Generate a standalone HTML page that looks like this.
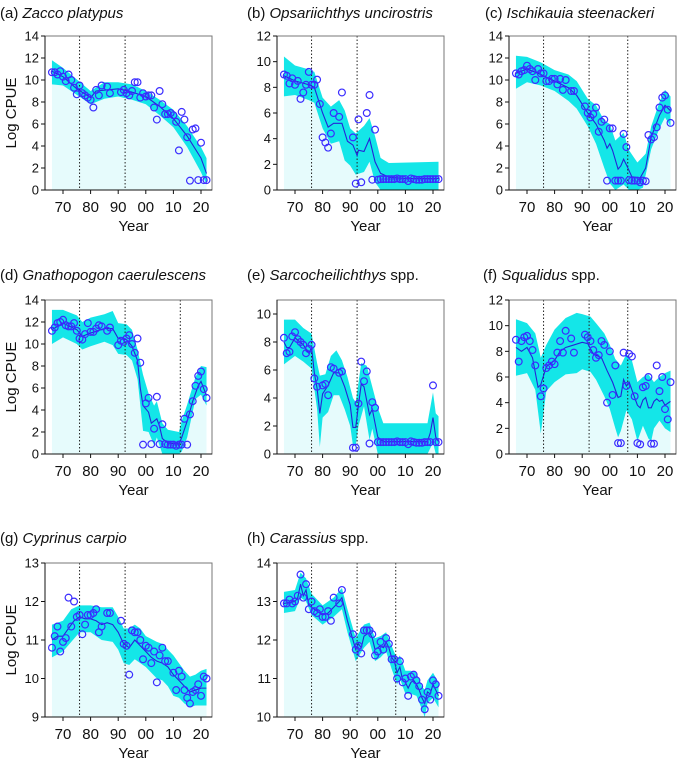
<!DOCTYPE html>
<html><head><meta charset="utf-8"><style>
body{margin:0;background:#fff;}
svg text{font-family:"Liberation Sans",sans-serif;fill:#111;}
</style></head><body>
<svg id="chart" width="677" height="762" viewBox="0 0 677 762" xmlns="http://www.w3.org/2000/svg"></svg>
<script>
// ---- (a) Zacco platypus
const aPts=[[66,10.7],[67,10.7],[68,10.5],[69,10.8],[70,10.3],[71,9.9],[72,10.5],[73,10.0],[74,9.3],[75,8.7],[76,9.5],[77,8.8],[78,8.6],[79,8.4],[80,8.2],[81,7.5],[82,9.1],[83,8.6],[84,9.5],[86,9.4],[87,8.8],[91,8.9],[92,9.1],[93,8.8],[94,8.6],[95,9.0],[96,9.8],[97,9.8],[98,8.4],[99,8.8],[100,8.5],[101,8.6],[102,8.6],[103,7.5],[104,6.4],[105,9.0],[106,7.8],[107,6.9],[108,6.9],[109,7.0],[110,6.8],[111,6.2],[112,3.6],[113,7.1],[114,6.4],[115,4.8],[116,0.85],[117,5.5],[118,5.6],[119,0.9],[120,4.3],[121,0.9],[122,0.9]];
const aFit=[[66,10.8],[70,10.3],[75,9.2],[80,8.4],[82,9.0],[90,9.2],[95,8.9],[100,8.5],[105,7.6],[110,6.5],[115,4.9],[120,2.9],[122,1.5]];
const aHi=[[66,11.8],[70,11.1],[80,9.0],[85,9.8],[90,9.8],[95,9.6],[100,9.0],[105,8.2],[110,7.3],[115,5.8],[120,3.9],[122,2.9]];
const aLo=[[66,9.6],[70,9.5],[80,7.8],[85,8.3],[90,8.5],[95,8.2],[100,7.8],[105,6.8],[110,5.7],[115,3.9],[120,1.6],[122,0.5]];
// ---- (b) Opsariichthys uncirostris
const bPts=[[66,9.0],[67,8.9],[68,8.3],[69,8.7],[70,8.2],[71,8.5],[72,7.1],[73,7.6],[74,8.2],[75,9.2],[76,8.2],[77,8.2],[78,8.6],[79,6.7],[80,4.1],[81,3.7],[82,3.3],[83,4.4],[84,6.0],[86,5.7],[87,7.6],[91,4.1],[92,0.5],[93,5.5],[94,0.6],[96,6.0],[97,7.4],[98,0.8],[99,4.7],[100,0.8],[101,0.85],[102,0.85],[103,0.85],[104,0.85],[105,0.85],[106,0.85],[107,0.9],[108,0.85],[109,0.85],[110,0.85],[111,0.7],[112,0.9],[113,0.85],[114,0.8],[115,0.8],[116,0.8],[117,0.85],[118,0.85],[119,0.85],[120,0.85],[121,0.85],[122,0.85]];
const bFit=[[66,8.9],[70,8.5],[75,8.2],[77,8.0],[80,6.0],[82,4.9],[84,5.2],[87,5.2],[89,3.8],[91,3.5],[92.5,2.7],[93,3.1],[95,3.0],[97,4.0],[99,2.2],[101,1.3],[104,1.0],[110,0.9],[122,0.9]];
const bHi=[[66,10.4],[70,9.7],[75,9.4],[77,9.2],[80,7.2],[83,6.5],[86,7.0],[88,6.2],[90,4.8],[92,4.4],[95,5.0],[97,5.6],[99,4.2],[101,2.5],[104,2.1],[122,2.2]];
const bLo=[[66,7.3],[70,7.4],[75,7.0],[77,6.8],[80,4.8],[83,3.6],[86,3.8],[88,2.3],[90,1.9],[92,1.2],[95,1.4],[97,2.2],[99,0.6],[101,0],[122,0]];
// ---- (c) Ischikauia steenackeri
const cPts=[[66,10.6],[67,10.5],[68,10.8],[69,10.9],[70,11.3],[71,11.0],[72,10.8],[73,10.0],[74,11.0],[75,10.6],[76,10.6],[77,9.9],[78,9.9],[79,10.1],[80,10.1],[81,9.6],[82,10.1],[83,9.1],[84,10.0],[86,9.0],[87,9.0],[91,7.6],[92,7.0],[93,6.6],[94,6.9],[95,7.5],[96,5.3],[97,6.2],[98,6.4],[99,0.85],[100,5.6],[101,5.6],[102,0.85],[103,0.85],[104,0.85],[105,5.1],[106,3.9],[107,0.9],[108,0.85],[109,0.85],[110,0.85],[111,0.7],[112,0.85],[113,0.8],[114,5.0],[115,4.6],[116,4.8],[117,5.7],[118,7.5],[119,8.4],[120,8.6],[121,7.3],[122,6.1]];
const cFit=[[66,10.6],[70,11.0],[75,10.5],[80,9.9],[85,9.3],[88,8.6],[92,7.0],[95,6.0],[98,4.5],[99,3.8],[100,4.2],[101,3.6],[103,1.9],[104,2.2],[105,2.8],[106,2.3],[108,1.2],[111,1.1],[113,2.0],[115,4.8],[118,6.8],[120,7.7],[122,7.2]];
const cHi=[[66,12.2],[70,12.1],[75,11.6],[80,10.9],[85,10.5],[88,9.9],[92,8.3],[95,7.7],[98,6.3],[100,6.0],[102,4.5],[105,5.2],[107,3.6],[110,2.5],[113,3.3],[115,5.8],[118,8.0],[120,9.1],[122,8.5]];
const cLo=[[66,9.2],[70,9.8],[75,9.5],[80,9.0],[85,8.1],[88,7.4],[92,5.8],[95,4.2],[98,2.0],[100,0.6],[102,0],[105,0.5],[107,0],[110,0],[112,0.2],[115,3.7],[118,5.6],[120,6.6],[122,5.8]];
// ---- (d) Gnathopogon caerulescens
const dPts=[[66,11.2],[67,11.5],[68,11.9],[69,12.0],[70,12.2],[71,11.7],[72,11.6],[73,11.6],[74,11.9],[75,11.2],[76,10.5],[77,10.4],[78,10.9],[79,11.9],[80,11.1],[81,11.1],[82,11.4],[83,11.7],[84,11.6],[86,11.2],[87,11.5],[90,9.9],[91,10.3],[92,10.2],[93,10.5],[94,10.8],[95,10.0],[96,9.2],[97,10.5],[98,8.3],[99,0.85],[100,4.6],[101,5.1],[102,0.9],[103,2.3],[104,5.2],[105,0.9],[106,2.7],[107,0.9],[108,0.85],[109,0.85],[110,0.85],[111,0.75],[112,0.85],[113,0.85],[114,3.2],[115,0.85],[116,3.6],[117,4.8],[118,6.2],[119,7.1],[120,7.5],[121,5.9],[122,5.1]];
const dFit=[[66,11.3],[70,11.9],[75,11.3],[77,10.7],[80,11.0],[85,11.4],[88,11.4],[90,10.5],[93,10.4],[95,9.8],[97,8.5],[98,6.0],[99,4.4],[101,3.8],[102,2.8],[104,3.2],[105,2.5],[106,1.4],[108,1.0],[112,0.9],[113,1.5],[115,3.0],[117,4.8],[119,6.2],[120,6.6],[122,5.3]];
const dHi=[[66,13.1],[70,13.1],[75,12.6],[77,12.0],[80,12.4],[85,12.7],[88,13.0],[90,11.9],[93,11.8],[95,11.3],[97,9.5],[99,7.2],[101,5.5],[103,4.4],[104,4.8],[106,2.8],[108,2.2],[112,2.0],[113,3.0],[115,4.5],[118,7.0],[120,8.0],[122,7.9]];
const dLo=[[66,10.0],[70,10.6],[75,10.0],[77,9.5],[80,9.8],[85,10.2],[88,9.9],[90,9.1],[93,9.0],[95,8.5],[97,6.8],[99,2.1],[101,2.0],[103,0.8],[104,1.5],[106,0],[112,0],[113,0.2],[115,1.5],[118,5.0],[120,5.4],[122,4.4]];
// ---- (e) Sarcocheilichthys spp.
const ePts=[[66,8.3],[67,7.2],[68,7.3],[69,8.4],[70,8.7],[71,8.2],[72,8.0],[73,7.8],[74,7.2],[75,7.5],[76,7.8],[77,5.4],[78,4.8],[80,4.9],[81,5.0],[82,4.2],[83,6.2],[84,6.1],[86,5.8],[87,5.9],[91,0.45],[92,0.45],[93,3.6],[94,6.6],[95,5.2],[96,5.9],[97,0.75],[98,3.7],[99,3.3],[100,0.85],[101,0.85],[102,0.85],[103,0.85],[104,0.85],[105,0.85],[106,0.85],[107,0.9],[108,0.85],[109,0.85],[110,0.85],[111,0.7],[112,0.9],[113,0.85],[114,0.8],[115,0.8],[116,0.8],[117,0.85],[118,0.85],[119,0.85],[120,4.9],[121,0.85],[122,0.85]];
const eFit=[[66,8.0],[67,7.6],[68,7.6],[70,8.3],[73,7.8],[75,7.2],[76,7.6],[77,5.8],[78,4.7],[79,2.9],[80,4.3],[82,4.9],[84,5.8],[86,5.8],[88,4.8],[90,3.5],[91,1.9],[92,1.9],[93,3.5],[94,5.0],[95,4.8],[97,2.8],[98,3.2],[99,2.2],[100,1.2],[102,0.9],[118,0.9],[119,1.5],[120,2.6],[121,1.2],[122,0.9]];
const eHi=[[66,9.6],[70,9.6],[73,9.0],[76,8.6],[78,6.5],[79,5.6],[81,5.7],[83,7.0],[85,7.4],[87,6.7],[89,5.5],[91,4.0],[92,3.7],[94,6.5],[96,6.3],[98,4.8],[100,3.3],[102,2.2],[118,2.2],[120,4.4],[121,2.9],[122,2.7]];
const eLo=[[66,6.4],[70,7.0],[73,6.6],[76,6.1],[78,3.2],[79,0.5],[80,2.6],[82,3.0],[84,4.2],[86,4.2],[88,3.2],[90,2.0],[91,0.6],[92,0.6],[93,2.0],[95,3.4],[97,1.0],[98,1.8],[100,0],[118,0],[120,0.8],[121,0],[122,0]];
// ---- (f) Squalidus spp.
const fPts=[[66,8.9],[67,7.2],[68,8.8],[69,9.1],[70,9.2],[71,8.8],[72,8.1],[73,6.9],[75,4.5],[76,5.1],[77,6.7],[78,6.9],[79,7.2],[80,7.0],[81,7.9],[82,8.8],[83,7.9],[84,9.6],[86,9.0],[87,7.9],[91,9.3],[92,9.1],[93,8.8],[94,8.1],[95,7.5],[96,7.7],[97,8.8],[98,8.5],[99,4.0],[100,8.0],[101,4.6],[102,6.9],[103,0.85],[104,0.85],[105,7.9],[106,5.3],[107,7.8],[108,7.6],[109,4.5],[110,0.85],[111,0.75],[112,5.2],[113,5.3],[114,6.0],[115,0.8],[116,0.8],[117,6.9],[118,4.9],[119,6.0],[120,3.5],[121,2.7],[122,5.6]];
const fFit=[[66,8.3],[68,8.0],[70,8.3],[72,7.5],[74,5.2],[75,5.4],[77,6.8],[80,7.3],[82,8.0],[84,8.3],[87,8.5],[90,8.7],[92,8.6],[94,7.8],[97,7.5],[99,6.5],[101,5.6],[103,4.4],[104,4.5],[105,5.8],[106,5.3],[107,5.6],[108,5.0],[110,3.8],[111,3.6],[112,4.2],[113,4.4],[114,3.6],[115,3.6],[116,4.1],[117,4.3],[118,4.1],[119,4.2],[120,3.8],[122,4.1]];
const fHi=[[66,10.5],[70,10.2],[73,9.4],[75,7.5],[77,8.5],[80,9.7],[84,10.6],[88,11.0],[90,10.9],[93,10.7],[95,10.2],[98,9.4],[100,8.5],[102,7.4],[104,6.9],[106,7.8],[108,7.3],[110,5.6],[112,6.0],[114,6.2],[116,5.6],[118,6.0],[120,6.3],[122,6.5]];
const fLo=[[66,6.1],[70,6.3],[73,5.0],[75,1.6],[77,4.9],[80,5.6],[84,6.2],[88,6.3],[90,6.6],[93,6.4],[95,5.8],[98,4.5],[100,3.5],[102,2.0],[103,1.3],[104,1.8],[106,3.4],[108,2.7],[110,1.0],[112,2.2],[114,1.2],[115,1.0],[116,2.0],[118,2.6],[120,2.0],[122,1.7]];
// ---- (g) Cyprinus carpio
const gPts=[[66,10.8],[67,11.1],[68,11.35],[69,10.7],[70,10.95],[71,11.05],[72,12.1],[73,11.35],[74,12.0],[75,11.6],[76,11.65],[77,11.15],[78,11.4],[79,11.65],[80,11.65],[81,11.7],[82,11.8],[83,11.2],[84,11.35],[86,11.7],[87,11.7],[91,11.5],[92,10.9],[93,10.85],[94,10.1],[95,11.25],[96,11.2],[97,11.2],[98,11.0],[99,10.5],[100,10.85],[101,10.8],[102,10.4],[103,10.7],[104,9.9],[105,10.6],[106,10.8],[107,10.45],[108,10.45],[110,10.15],[111,9.7],[112,10.2],[113,10.05],[114,9.7],[115,9.5],[116,9.35],[117,9.65],[118,9.7],[119,9.85],[120,9.55],[121,10.05],[122,10.0]];
const gFit=[[66,11.0],[68,11.1],[70,11.1],[72,11.3],[74,11.5],[76,11.6],[78,11.55],[80,11.55],[82,11.5],[84,11.4],[86,11.45],[88,11.4],[90,11.2],[92,10.9],[94,10.8],[96,11.0],[98,10.85],[100,10.7],[102,10.55],[104,10.45],[106,10.4],[108,10.3],[110,10.1],[112,9.95],[114,9.8],[116,9.65],[118,9.7],[120,9.75],[122,9.75]];
const gHi=[[66,11.4],[70,11.5],[73,11.8],[76,11.9],[80,11.9],[84,11.85],[88,11.85],[90,11.6],[92,11.3],[94,11.3],[96,11.4],[98,11.3],[100,11.1],[104,10.95],[106,10.9],[108,10.75],[110,10.6],[112,10.4],[114,10.2],[116,10.05],[118,10.1],[120,10.2],[122,10.25]];
const gLo=[[66,10.55],[70,10.7],[73,10.95],[76,11.2],[80,11.2],[84,11.0],[88,10.95],[90,10.75],[92,10.4],[94,10.35],[96,10.5],[98,10.4],[100,10.3],[104,10.0],[106,9.95],[108,9.8],[110,9.55],[112,9.5],[114,9.35],[116,9.25],[118,9.3],[120,9.3],[122,9.3]];
// ---- (h) Carassius spp.
const hPts=[[66,12.95],[67,12.95],[68,13.05],[69,12.95],[70,13.0],[71,13.15],[72,13.7],[73,13.1],[74,13.45],[75,12.8],[76,13.0],[77,12.75],[78,12.7],[79,12.8],[80,12.6],[81,12.6],[82,12.75],[83,12.5],[84,13.1],[86,12.95],[87,13.3],[91,12.15],[92,11.75],[93,11.85],[94,11.65],[95,12.25],[96,12.25],[97,12.25],[98,12.15],[99,11.6],[100,11.7],[101,11.95],[102,11.75],[103,12.05],[104,11.9],[105,11.5],[106,11.5],[107,11.0],[108,11.45],[109,10.9],[110,11.0],[111,10.55],[112,11.05],[113,11.1],[114,10.95],[115,10.8],[116,10.45],[117,10.2],[118,10.65],[119,10.45],[120,10.95],[121,10.85],[122,10.55]];
const hFit=[[66,12.95],[70,13.0],[71,13.1],[72,13.45],[73,13.15],[74,13.3],[75,12.9],[78,12.75],[80,12.65],[82,12.7],[84,12.85],[86,13.0],[87,13.1],[89,12.5],[91,12.0],[92,11.75],[93,11.9],[94,11.8],[95,12.1],[97,12.2],[98,12.05],[99,11.75],[100,11.8],[101,11.85],[102,11.8],[103,11.95],[104,11.8],[105,11.55],[106,11.45],[107,11.15],[108,11.3],[109,10.95],[110,10.9],[111,10.75],[112,10.9],[113,10.95],[114,10.85],[115,10.7],[116,10.5],[117,10.35],[118,10.65],[119,10.6],[120,10.85],[121,10.7],[122,10.55]];
const hHi=[[66,13.25],[70,13.3],[72,13.75],[74,13.6],[76,13.2],[80,12.9],[84,13.1],[87,13.35],[89,12.8],[91,12.3],[92,12.05],[95,12.4],[97,12.45],[99,12.05],[101,12.1],[103,12.2],[105,11.85],[107,11.5],[108,11.6],[110,11.2],[112,11.2],[114,11.15],[116,10.8],[117,10.7],[118,10.95],[120,11.15],[122,10.9]];
const hLo=[[66,12.7],[70,12.75],[72,13.1],[74,13.0],[76,12.65],[80,12.4],[84,12.6],[87,12.8],[89,12.2],[91,11.7],[92,11.45],[95,11.8],[97,11.95],[99,11.45],[101,11.55],[103,11.7],[105,11.25],[107,10.85],[108,11.0],[110,10.6],[112,10.6],[114,10.55],[116,10.2],[117,10.0],[118,10.35],[120,10.5],[122,10.25]];

const xTickYears=[70,80,90,100,110,120];
const xTickLabels=["70","80","90","00","10","20"];

const panels=[
 {id:'a',lab:'(a) ',it:'Zacco platypus',rest:'',tx:0,col:0,row:0,ymin:0,ymax:14,ticks:[0,2,4,6,8,10,12,14],vl:[76,92.5],pts:aPts,fit:aFit,hi:aHi,lo:aLo},
 {id:'b',lab:'(b) ',it:'Opsariichthys uncirostris',rest:'',tx:247,col:1,row:0,ymin:0,ymax:12,ticks:[0,2,4,6,8,10,12],vl:[76,92.5],pts:bPts,fit:bFit,hi:bHi,lo:bLo},
 {id:'c',lab:'(c) ',it:'Ischikauia steenackeri',rest:'',tx:485,col:2,row:0,ymin:0,ymax:14,ticks:[0,2,4,6,8,10,12,14],vl:[76,92.5,106.5],pts:cPts,fit:cFit,hi:cHi,lo:cLo},
 {id:'d',lab:'(d) ',it:'Gnathopogon caerulescens',rest:'',tx:0,col:0,row:1,ymin:0,ymax:14,ticks:[0,2,4,6,8,10,12,14],vl:[76,92.5,112.5],pts:dPts,fit:dFit,hi:dHi,lo:dLo},
 {id:'e',lab:'(e) ',it:'Sarcocheilichthys',rest:' spp.',tx:247,col:1,row:1,ymin:0,ymax:11,ticks:[0,2,4,6,8,10],vl:[76,92.5],pts:ePts,fit:eFit,hi:eHi,lo:eLo},
 {id:'f',lab:'(f) ',it:'Squalidus',rest:' spp.',tx:483,col:2,row:1,ymin:0,ymax:12,ticks:[0,2,4,6,8,10,12],vl:[76,92.5,106.5],pts:fPts,fit:fFit,hi:fHi,lo:fLo},
 {id:'g',lab:'(g) ',it:'Cyprinus carpio',rest:'',tx:0,col:0,row:2,ymin:9,ymax:13,ticks:[9,10,11,12,13],vl:[76,92.5],pts:gPts,fit:gFit,hi:gHi,lo:gLo},
 {id:'h',lab:'(h) ',it:'Carassius',rest:' spp.',tx:247,col:1,row:2,ymin:10,ymax:14,ticks:[10,11,12,13,14],vl:[76,92.5,106.5],pts:hPts,fit:hFit,hi:hHi,lo:hLo}
];
const colL=[45,277,509], rowT=[36,300,563], rowTitle=[13,275,538];
const W=167,H=154;
const NS='http://www.w3.org/2000/svg';
const svg=document.getElementById('chart');
function mk(tag,attrs,parent){const e=document.createElementNS(NS,tag);for(const k in attrs)e.setAttribute(k,attrs[k]);(parent||svg).appendChild(e);return e;}

panels.forEach(p=>{
  const L=colL[p.col],T=rowT[p.row],B=T+H;
  const g=mk('g',{});
  
  
  const x=yr=>L+18+(yr-70)*2.76;
  const y=v=>B-(v-p.ymin)/(p.ymax-p.ymin)*H;
  const t=mk('text',{x:p.tx,y:rowTitle[p.row]+5,'font-size':'15'},g);
  
  
  t.innerHTML=p.lab+'<tspan font-style="italic">'+p.it+'</tspan>'+p.rest;
  let pa='M'+x(p.lo[0][0])+','+B;
  p.lo.forEach(d=>pa+=' L'+x(d[0])+','+y(d[1]));
  pa+=' L'+x(p.lo[p.lo.length-1][0])+','+B+' Z';
  const pale=mk('path',{d:pa,fill:'#e6fbfc'},g);
  
  
  let bd='';
  p.hi.forEach((d,i)=>bd+=(i?' L':'M')+x(d[0])+','+y(d[1]));
  for(let i=p.lo.length-1;i>=0;i--)bd+=' L'+x(p.lo[i][0])+','+y(p.lo[i][1]);
  bd+=' Z';
  const band=mk('path',{d:bd,fill:'#14e6e8'},g);
  
  
  p.vl.forEach(v=>{
    const l=mk('line',{x1:x(v),x2:x(v),y1:T,y2:B,stroke:'#222','stroke-width':'1','stroke-dasharray':'1.5,2'},g);
    
    
  });
  const fl=mk('polyline',{points:p.fit.map(d=>x(d[0])+','+y(d[1])).join(' '),fill:'none',stroke:'#2424d8','stroke-width':'1.1'},g);
  
  
  p.pts.forEach(d=>{
    const c=mk('circle',{cx:x(d[0]),cy:y(d[1]),r:3.4,fill:'none',stroke:'#3a2cff','stroke-width':'1.2'},g);
    
    
  });
  const fr=mk('rect',{x:L,y:T,width:W,height:H,fill:'none',stroke:'#777','stroke-width':'1'},g);
  
  
  mk('line',{x1:L,x2:L,y1:T,y2:B,stroke:'#111'},g);
  mk('line',{x1:L,x2:L+W,y1:B,y2:B,stroke:'#111'},g);
  p.ticks.forEach(v=>{
    mk('line',{x1:L-4,x2:L,y1:y(v),y2:y(v),stroke:'#111'},g);
    const tl=mk('text',{x:L-6,y:y(v)+4.5,'font-size':'13','text-anchor':'end'},g);
    
    
    tl.textContent=v;
  });
  xTickYears.forEach((v,i)=>{
    mk('line',{x1:x(v),x2:x(v),y1:B,y2:B+4,stroke:'#111'},g);
    const tl=mk('text',{x:x(v),y:B+22,'font-size':'15','text-anchor':'middle'},g);
    
    
    tl.textContent=xTickLabels[i];
  });
  const xt=mk('text',{x:L+W/2+5,y:B+41,'font-size':'15','text-anchor':'middle'},g);
  
  
  xt.textContent='Year';
  if(p.col===0){
    const yt=mk('text',{x:0,y:0,'font-size':'15','text-anchor':'middle',transform:'translate(16,'+(T+H/2)+') rotate(-90)'},g);
    
    
    yt.textContent='Log CPUE';
  }
});
</script>
</body></html>
